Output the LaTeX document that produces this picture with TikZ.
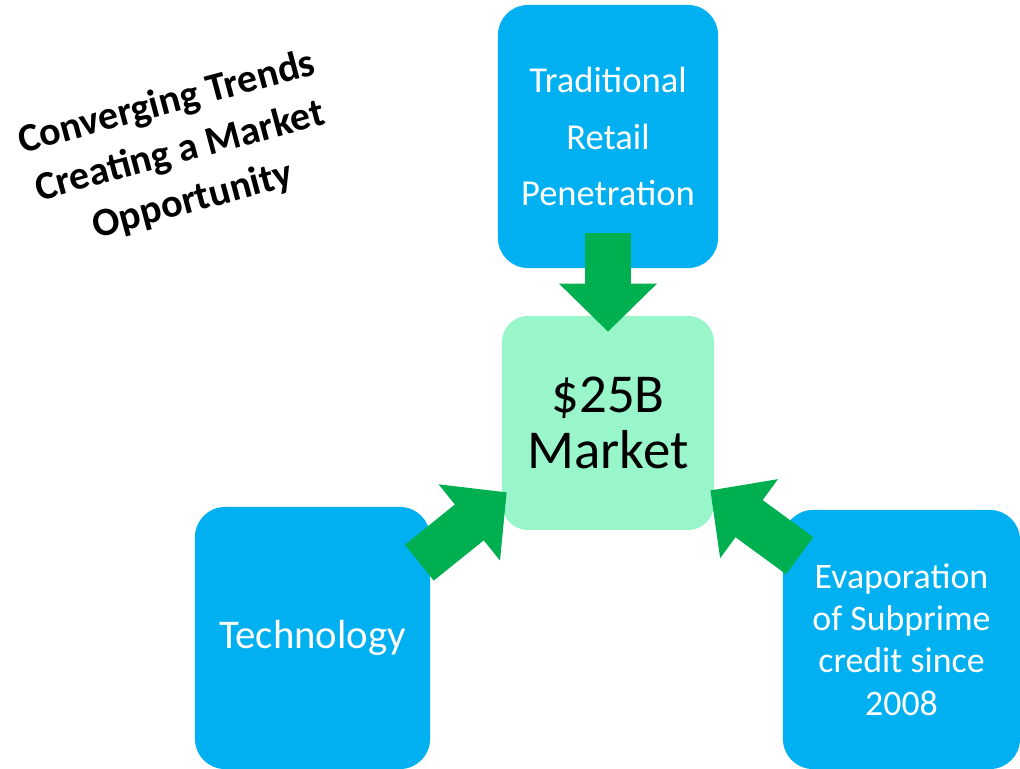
\documentclass[tikz,border=0pt]{standalone}
\usepackage{fontspec}
\setmainfont{Carlito}
\usetikzlibrary{arrows.meta,calc}
\definecolor{trendblue}{RGB}{0,176,240}
\definecolor{marketgreen}{RGB}{152,246,202}
\definecolor{pushgreen}{RGB}{0,176,80}
\begin{document}
\begin{tikzpicture}[x=0.025cm,y=-0.025cm,
    trend/.style={fill=trendblue,rounded corners=0.75cm,text=white,align=center,inner sep=0pt},
    push/.style={draw=pushgreen,line width=1.15cm,-{Triangle[length=1.2cm,width=2.375cm]}}]
  \useasboundingbox (0,0) rectangle (1020,769);
  \node[rotate=15,align=center,font=\bfseries\fontsize{28.5}{36}\selectfont] (title) at (180,152) {Converging Trends\\Creating a Market\\Opportunity};
  \node[trend,minimum width=5.5cm,minimum height=6.575cm,font=\fontsize{26}{40}\selectfont] (retail) at (608,136.5) {Traditional\\Retail\\Penetration};
  \node[trend,minimum width=5.875cm,minimum height=6.55cm,font=\fontsize{29}{34}\selectfont] (tech) at (312.5,638) {Technology};
  \node[trend,minimum width=5.925cm,minimum height=6.475cm,font=\fontsize{25.5}{30}\selectfont] (subprime) at (901.5,639.5) {Evaporation\\of Subprime\\credit since\\2008};
  \node[fill=marketgreen,rounded corners=0.65cm,align=center,inner sep=0pt,minimum width=5.3cm,minimum height=5.35cm,font=\fontsize{39}{40}\selectfont] (market) at (608,423) {\$25B\\Market};
  \draw[push] ($(retail.south)+(0,-35)$) -- ($(market.north)+(0,16)$);
  \draw[push] ($(tech.north east)+(-11,56)$) -- ($(market.south west)+(5,-38)$);
  \draw[push] ($(subprime.north west)+(17,46)$) -- ($(market.south east)+(-4,-40)$);
\end{tikzpicture}
\end{document}
